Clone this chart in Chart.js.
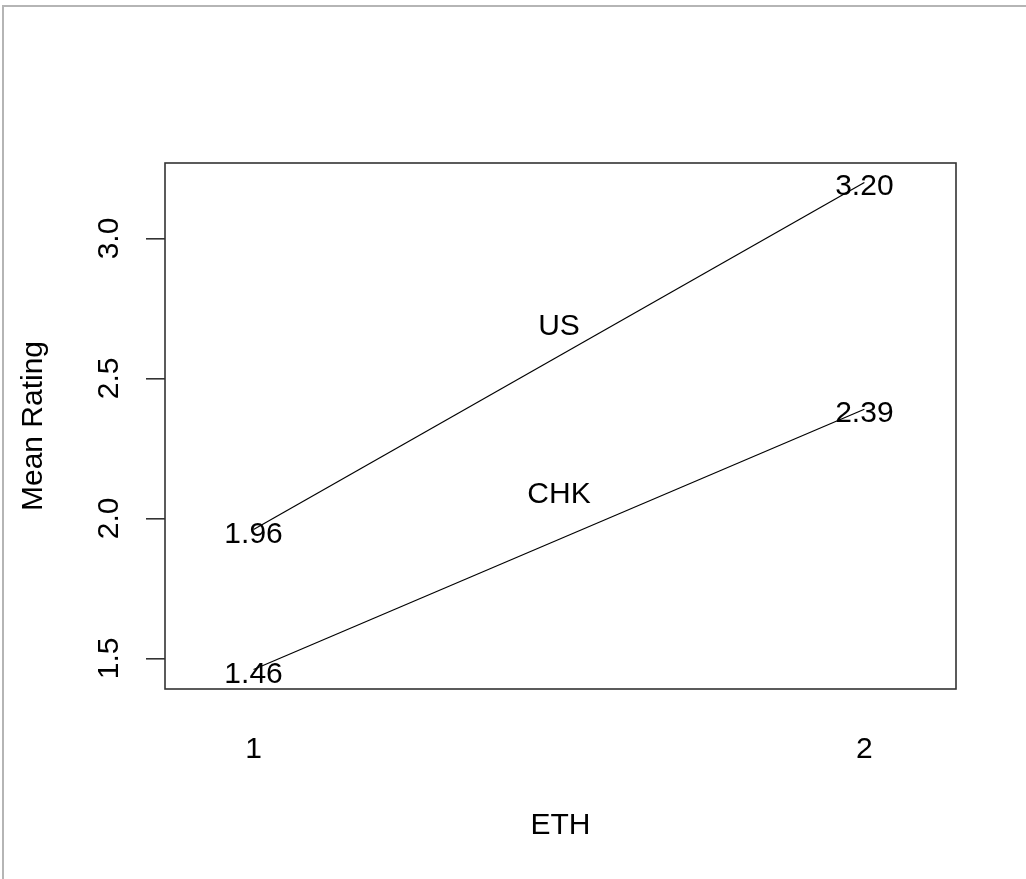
<!DOCTYPE html>
<html>
<head>
<meta charset="utf-8">
<script src="https://cdn.jsdelivr.net/npm/chart.js@4/dist/chart.umd.min.js"></script>
<style>
  html, body { margin: 0; padding: 0; background: #fff; }
  #wrap { width: 1026px; height: 879px; }
</style>
</head>
<body>
<div id="wrap"><canvas id="plot" width="1026" height="879"></canvas></div>
<script>
// ETH groups on the x axis
const ethValues = [1, 2];
// mean ratings per line
const usMeans = [1.96, 3.20];
const chkMeans = [1.46, 2.39];
// printed labels next to the points
const usLabels = ['1.96', '3.20'];
const chkLabels = ['1.46', '2.39'];
// line names and where they sit
const lineNames = ['US', 'CHK'];
const lineNameX = [1.5, 1.5];
const lineNameY = [2.7, 2.1];
// ticks
const xTicks = [1, 2];
const yTicks = [1.5, 2.0, 2.5, 3.0];

const fontFamily = '"Liberation Sans", Arial, sans-serif';
const fontSize = 30;
const textColor = '#000';

const toPoints = (xs, ys) => xs.map((x, i) => ({ x: x, y: ys[i] }));

// R centres text on the cap height, so put the baseline a bit under the point
const capShift = Math.round(fontSize * 0.36) + 2;

// draws the R style box, the point labels and the line names
const annotate = {
    id: 'annotate',
    beforeDraw(chart) {
        const ctx = chart.ctx;
        ctx.save();
        ctx.strokeStyle = '#b5b5b5';
        ctx.lineWidth = 2;
        ctx.beginPath();
        ctx.moveTo(3, 879);
        ctx.lineTo(3, 6);
        ctx.lineTo(1026, 6);
        ctx.stroke();
        ctx.restore();
    },
    afterDatasetsDraw(chart) {
        const ctx = chart.ctx;
        const a = chart.chartArea;
        const xs = chart.scales.x, ys = chart.scales.y;
        ctx.save();
        ctx.strokeStyle = '#333';
        ctx.lineWidth = 1.6;
        ctx.strokeRect(a.left, a.top, a.right - a.left, a.bottom - a.top);

        ctx.font = fontSize + 'px ' + fontFamily;
        ctx.fillStyle = textColor;
        ctx.textAlign = 'center';
        ctx.textBaseline = 'alphabetic';
        [usLabels, chkLabels].forEach((labels, d) => {
            const meta = chart.getDatasetMeta(d);
            meta.data.forEach((pt, i) => ctx.fillText(labels[i], pt.x, pt.y + capShift));
        });
        lineNames.forEach((name, i) => {
            ctx.fillText(name, xs.getPixelForValue(lineNameX[i]), ys.getPixelForValue(lineNameY[i]) + capShift);
        });
        ctx.restore();
    }
};

new Chart(document.getElementById('plot'), {
    type: 'line',
    data: {
        datasets: [
            { label: 'US', data: toPoints(ethValues, usMeans) },
            { label: 'CHK', data: toPoints(ethValues, chkMeans) }
        ]
    },
    options: {
        responsive: false,
        animation: false,
        layout: { padding: { top: 163, right: 70, bottom: 0, left: 0 } },
        elements: {
            line: { borderColor: '#000', borderWidth: 1.2, tension: 0 },
            point: { radius: 0 }
        },
        plugins: {
            legend: { display: false },
            tooltip: { enabled: false }
        },
        scales: {
            x: {
                type: 'linear',
                min: 0.855,
                max: 2.15,
                afterBuildTicks: s => { s.ticks = xTicks.map(v => ({ value: v })); },
                afterFit: s => { s.height = 190; },
                grid: { display: false, drawTicks: false },
                border: { display: false },
                ticks: {
                    padding: 43,
                    color: textColor,
                    font: { family: fontFamily, size: fontSize },
                    callback: v => String(v)
                },
                title: {
                    display: true,
                    text: 'ETH',
                    color: textColor,
                    font: { family: fontFamily, size: fontSize },
                    padding: { top: 0, bottom: 35 }
                }
            },
            y: {
                type: 'linear',
                min: 1.3904,
                max: 3.2696,
                afterBuildTicks: s => { s.ticks = yTicks.map(v => ({ value: v })); },
                afterFit: s => { s.width = 165; },
                grid: {
                    drawOnChartArea: false,
                    tickLength: 19,
                    color: '#333',
                    lineWidth: 1.6
                },
                border: { display: false },
                ticks: {
                    minRotation: 90,
                    maxRotation: 90,
                    crossAlign: 'center',
                    padding: 15,
                    color: textColor,
                    font: { family: fontFamily, size: fontSize },
                    callback: v => v.toFixed(1)
                },
                title: {
                    display: true,
                    text: 'Mean Rating',
                    color: textColor,
                    font: { family: fontFamily, size: fontSize },
                    padding: { top: 16, bottom: 0 }
                }
            }
        }
    },
    plugins: [annotate]
});
</script>
</body>
</html>
